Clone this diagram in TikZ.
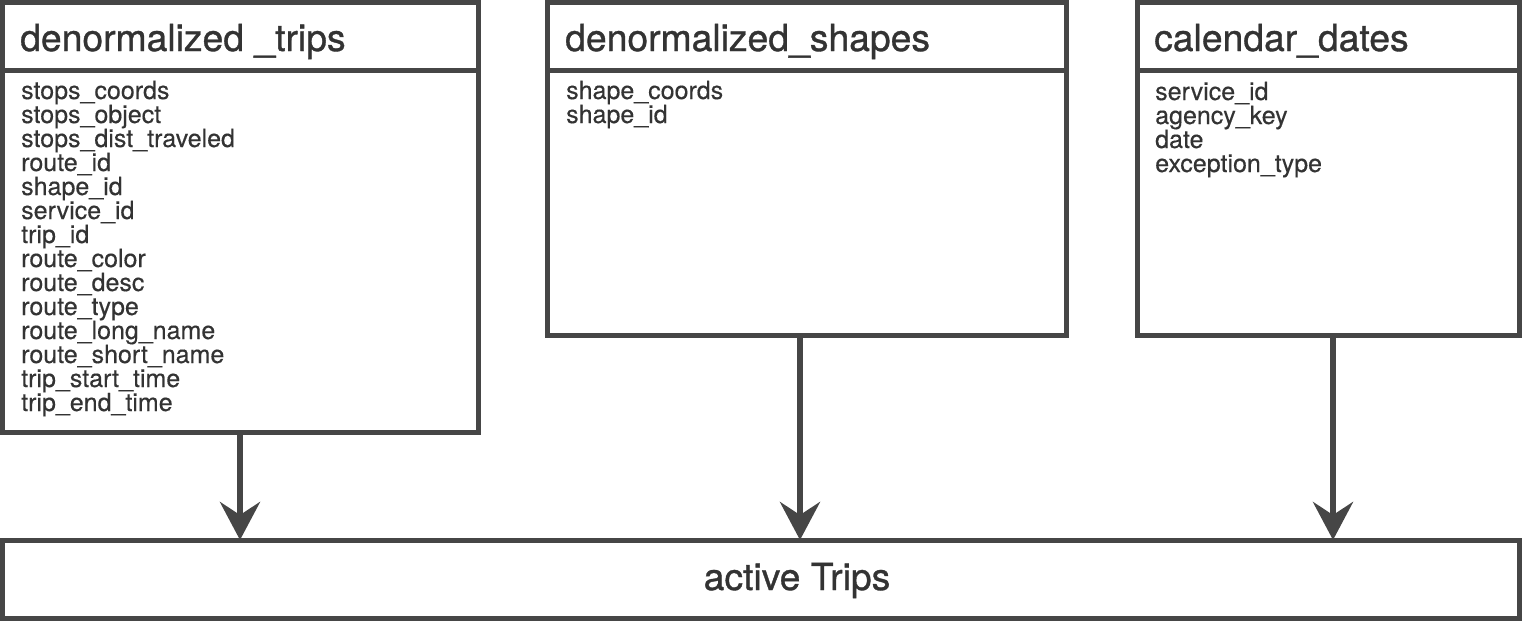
\documentclass[tikz,border=0pt]{standalone}
\usepackage{fontspec}
\setmainfont{TeX Gyre Heros}
\newfontfamily\titlefam[FakeBold=0.9]{TeX Gyre Heros}
\newfontfamily\bodyfam[FakeBold=0.3]{TeX Gyre Heros}
\usetikzlibrary{arrows.meta}
\definecolor{linegray}{HTML}{464646}
\definecolor{textgray}{HTML}{333333}
\tikzset{
  box/.style={draw=linegray, line width=5pt, rectangle, inner sep=0pt, outer sep=0pt, fill=white, anchor=north west},
  sepline/.style={draw=linegray, line width=5pt},
  titletext/.style={font=\titlefam\fontsize{37.3}{40}\selectfont, text=textgray, inner sep=0pt, anchor=base west},
  bodytext/.style={font=\bodyfam\fontsize{25}{24}\selectfont, text=textgray, inner sep=0pt, anchor=base west},
  flow/.style={draw=linegray, line width=6pt, -{Stealth[length=38pt, width=40pt, inset=13pt]}}
}
\begin{document}
\begin{tikzpicture}[x=1pt, y=1pt]
\useasboundingbox (0,0) rectangle (1522,-621);
% boxes
\node[box, minimum width=476pt, minimum height=429.5pt] (trips) at (2.5,-2.5) {};
\node[box, minimum width=519pt, minimum height=332.5pt] (shapes) at (547.5,-2.5) {};
\node[box, minimum width=382pt, minimum height=332.5pt] (cal) at (1137.5,-2.5) {};
\node[box, minimum width=1517pt, minimum height=78pt] (active) at (2.5,-540) {};
% header separators
\coordinate (ts) at (0,-70);
\draw[sepline] (trips.west |- ts) -- (trips.east |- ts);
\draw[sepline] (shapes.west |- ts) -- (shapes.east |- ts);
\draw[sepline] (cal.west |- ts) -- (cal.east |- ts);
% titles
\node[titletext] (tripsT) at (20,-51) {denormalized \_trips};
\node[titletext] (shapesT) at (565,-51) {denormalized\_shapes};
\node[titletext] (calT) at (1154,-51) {calendar\_dates};
\node[titletext, anchor=base] (activeT) at (797,-590) {active Trips};
% fields
\foreach \t [count=\i] in {stops\_coords, stops\_object, stops\_dist\_traveled, route\_id, shape\_id, service\_id, trip\_id, route\_color, route\_desc, route\_type, route\_long\_name, route\_short\_name, trip\_start\_time, trip\_end\_time}
  \node[bodytext] (tf\i) at (21,{-99-24*(\i-1)}) {\t};
\foreach \t [count=\i] in {shape\_coords, shape\_id}
  \node[bodytext] (sf\i) at (566,{-99-24*(\i-1)}) {\t};
\foreach \t [count=\i] in {service\_id, agency\_key, date, exception\_type}
  \node[bodytext] (cf\i) at (1155,{-100-24*(\i-1)}) {\t};
% connectors
\coordinate (a1) at (240,0);
\coordinate (a2) at (800,0);
\coordinate (a3) at (1333,0);
\draw[flow] (trips.south -| a1) -- (active.north -| a1);
\draw[flow] (shapes.south -| a2) -- (active.north -| a2);
\draw[flow] (cal.south -| a3) -- (active.north -| a3);
\end{tikzpicture}
\end{document}
